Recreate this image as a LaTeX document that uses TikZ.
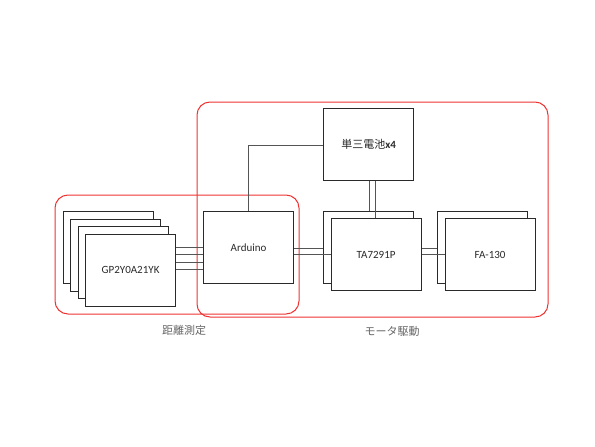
\documentclass[tikz,border=0pt]{standalone}
\usepackage{fontspec}
\setmainfont{Carlito}
\newfontfamily\jpfont{Noto Sans CJK JP}
\definecolor{boxline}{HTML}{2A2A2A}
\definecolor{wire}{HTML}{555555}
\definecolor{grp}{HTML}{EE3333}
\definecolor{lbl}{HTML}{666666}
\begin{document}
\begin{tikzpicture}[x=1pt,y=-1pt,
  blk/.style={draw=boxline,line width=1.2pt,fill=white,minimum width=90pt,minimum height=72pt,inner sep=0pt,font=\fontsize{11}{13}\selectfont,text=boxline},
  wireline/.style={draw=wire,line width=0.7pt},
  group/.style={draw=grp,line width=1pt,rounded corners=13pt},
  glabel/.style={font=\jpfont\fontsize{11}{13}\selectfont,text=lbl}]
\useasboundingbox (0,0) rectangle (595,447);
% group boxes
\draw[group] (197,102) rectangle (548,317);
\draw[group] (55,195) rectangle (299,314);
% sensors
\node[blk,anchor=north west] (s1) at (62.5,211) {};
\node[blk,anchor=north west] (s2) at (70,218.5) {};
\node[blk,anchor=north west] (s3) at (77.5,226) {};
\node[blk,anchor=north west] (s4) at (85,233.5) {GP2Y0A21YK};
% arduino
\node[blk,anchor=north west] (ard) at (203,211) {Arduino};
% battery
\node[blk,anchor=north west] (bat) at (323,108) {{\jpfont\fontsize{11}{13}\selectfont 単三電池}\textbf{x4}};
% TA
\node[blk,anchor=north west] (ta1) at (323,211) {};
\node[blk,anchor=north west] (ta2) at (330.5,218) {TA7291P};
% FA
\node[blk,anchor=north west] (fa1) at (437,211) {};
\node[blk,anchor=north west] (fa2) at (444.5,218) {FA-130};
% wires sensors -> arduino
\foreach \yy in {247.5,254.5,262,269.5}{
  \draw[wireline] (s4.east |- 0,\yy) -- (ard.west |- 0,\yy);
}
% arduino -> battery
\coordinate (ab) at (248,145);
\draw[wireline] (ard.north -| ab) -- (ab) -- (bat.west |- ab);
% battery -> TA
\coordinate (bl) at (369,0);
\coordinate (br) at (375.5,0);
\draw[wireline] (bat.south -| bl) -- (ta1.north -| bl);
\draw[wireline] (bat.south -| br) -- (ta2.north -| br);
% arduino -> TA
\coordinate (w1) at (0,248);
\coordinate (w2) at (0,254.5);
\draw[wireline] (ard.east |- w1) -- (ta1.west |- w1);
\draw[wireline] (ard.east |- w2) -- (ta2.west |- w2);
% TA -> FA
\draw[wireline] (ta2.east |- w1) -- (fa1.west |- w1);
\draw[wireline] (ta2.east |- w2) -- (fa2.west |- w2);
% labels
\node[glabel] (l1) at (184,330) {距離測定};
\node[glabel] (l2) at (392,331) {モータ駆動};
\end{tikzpicture}
\end{document}
